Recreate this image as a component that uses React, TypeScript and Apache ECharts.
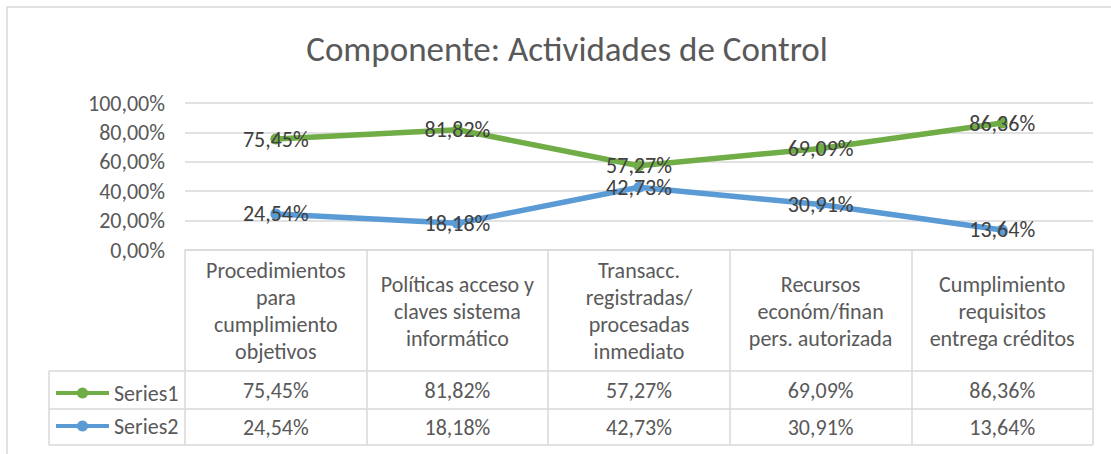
import React, { useEffect, useRef } from "react";
import * as echarts from "echarts";

const TITLE = "Componente: Actividades de Control";
const categories = [
  "Procedimientos\npara\ncumplimiento\nobjetivos",
  "Políticas acceso y\nclaves sistema\ninformático",
  "Transacc.\nregistradas/\nprocesadas\ninmediato",
  "Recursos\necon\u00f3m/finan\npers. autorizada",
  "Cumplimiento\nrequisitos\nentrega créditos",
];
const seriesNames = ["Series1", "Series2"];
const series1 = [75.45, 81.82, 57.27, 69.09, 86.36];
const series2 = [24.54, 18.18, 42.73, 30.91, 13.64];
const yTicks = [0, 20, 40, 60, 80, 100];

const FONT = "Carlito, Calibri, Lato, sans-serif";
const GRID_COLOR = "#D9D9D9";
const TEXT = "#595959";
const FS = 22;

const fmt = (v: number) => v.toFixed(2).replace(".", ",") + "%";

export default function App() {
  const ref = useRef<HTMLDivElement>(null);
  useEffect(() => {
    if (!ref.current) return;
    const chart = echarts.init(ref.current, undefined, { renderer: "svg" });
    const L = 185, R = 1093, TOP = 103, AX = 250;
    const rowA = 371, rowB = 409, rowC = 445, tableLeft = 49;
    const hline = (y: number, x1: number) => ({
      type: "line",
      shape: { x1, y1: y, x2: R, y2: y },
      style: { stroke: GRID_COLOR, lineWidth: 1.5 },
      silent: true,
    });
    const valueAxis = (idx: number, data: number[]) => ({
      type: "category",
      data: categories,
      position: "bottom",
      offset: idx === 1 ? 140 : 177,
      axisLine: { show: false },
      axisTick: { show: false },
      splitLine: { show: false },
      axisLabel: {
        interval: 0,
        margin: 0,
        verticalAlign: "middle",
        color: TEXT,
        fontSize: FS,
        fontFamily: FONT,
        formatter: (_: string, i: number) => fmt(data[i]),
      },
    });
    const dataLabel = {
      show: true,
      position: "inside",
      color: "#404040",
      fontSize: FS,
      fontFamily: FONT,
      formatter: (p: any) => fmt(p.value),
    };
    chart.setOption({
      animation: false,
      backgroundColor: "#ffffff",
      textStyle: { fontFamily: FONT },
      title: {
        text: TITLE,
        left: 562,
        textAlign: "center",
        top: 26,
        textStyle: { fontSize: 35, fontWeight: "normal", color: TEXT, fontFamily: FONT },
      },
      legend: {
        data: seriesNames,
        orient: "vertical",
        left: 54,
        top: 382,
        padding: 0,
        itemWidth: 53,
        itemHeight: 14,
        itemGap: 11,
        lineStyle: { width: 4 },
        textStyle: { fontSize: FS, color: TEXT, fontFamily: FONT },
      },
      grid: { left: L, right: 1111 - R, top: TOP, bottom: 454 - AX, containLabel: false },
      xAxis: [
        {
          type: "category",
          data: categories,
          boundaryGap: true,
          position: "bottom",
          axisLine: { show: true, lineStyle: { color: GRID_COLOR, width: 1.5 } },
          axisTick: {
            show: true,
            alignWithLabel: false,
            inside: false,
            length: rowC - AX,
            lineStyle: { color: GRID_COLOR, width: 1.5 },
          },
          splitLine: { show: false },
          axisLabel: {
            interval: 0,
            margin: 61,
            verticalAlign: "middle",
            align: "center",
            color: TEXT,
            fontSize: FS,
            lineHeight: 27,
            fontFamily: FONT,
          },
        },
        valueAxis(1, series1),
        valueAxis(2, series2),
      ],
      yAxis: {
        type: "value",
        min: 0,
        max: 100,
        interval: 20,
        axisLine: { show: false },
        axisTick: { show: false },
        splitLine: { lineStyle: { color: GRID_COLOR, width: 1.5 } },
        axisLabel: {
          margin: 20,
          color: TEXT,
          fontSize: FS,
          fontFamily: FONT,
          formatter: (v: number) => (yTicks.includes(v) ? fmt(v) : ""),
        },
      },
      series: [
        {
          name: seriesNames[0],
          type: "line",
          data: series1,
          color: "#70AD47",
          lineStyle: { width: 5.5, color: "#70AD47" },
          symbol: "circle",
          symbolSize: 11,
          itemStyle: { color: "#70AD47" },
          label: dataLabel,
          z: 3,
        },
        {
          name: seriesNames[1],
          type: "line",
          data: series2,
          color: "#5B9BD5",
          lineStyle: { width: 5.5, color: "#5B9BD5" },
          symbol: "circle",
          symbolSize: 11,
          itemStyle: { color: "#5B9BD5" },
          label: dataLabel,
          z: 2,
        },
      ],
      graphic: [
        {
          type: "rect",
          shape: { x: 7, y: 7, width: 1130, height: 470 },
          style: { fill: "none", stroke: GRID_COLOR, lineWidth: 1.5 },
          silent: true,
          z: -1,
        },
        hline(rowA, tableLeft),
        hline(rowB, tableLeft),
        hline(rowC, tableLeft),
        {
          type: "line",
          shape: { x1: tableLeft, y1: rowA, x2: tableLeft, y2: rowC },
          style: { stroke: GRID_COLOR, lineWidth: 1.5 },
          silent: true,
        },
      ],
    });
    return () => chart.dispose();
  }, []);
  return (
    <div
      ref={ref}
      style={{ position: "fixed", left: 0, top: 0, width: 1111, height: 454, background: "#fff" }}
    />
  );
}
